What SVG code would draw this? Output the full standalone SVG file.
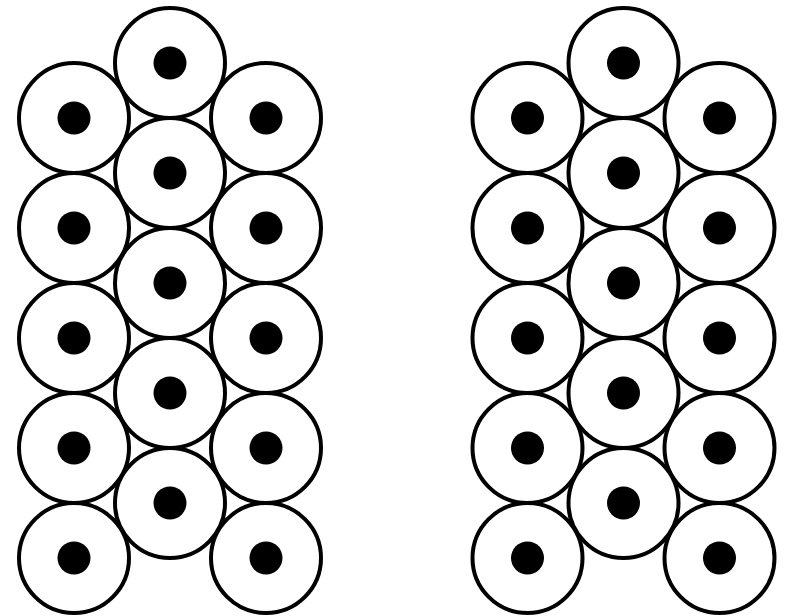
<svg xmlns="http://www.w3.org/2000/svg" xmlns:xlink="http://www.w3.org/1999/xlink" width="787" height="616" viewBox="0 0 787 616">
<style>
.ring{fill:#fff;stroke:#000;stroke-width:4}
.dot{fill:#000}
</style>
<defs>
<g id="cell"><circle class="ring" r="55"/><circle class="dot" r="16.5"/></g>
</defs>
<rect width="787" height="616" fill="#fff"/>
<g id="left-cluster">
<g id="L1"><use xlink:href="#cell" x="170" y="63"/></g>
<g id="L2"><use xlink:href="#cell" x="74" y="118"/></g>
<g id="L3"><use xlink:href="#cell" x="266" y="118"/></g>
<g id="L4"><use xlink:href="#cell" x="170" y="173"/></g>
<g id="L5"><use xlink:href="#cell" x="74" y="228"/></g>
<g id="L6"><use xlink:href="#cell" x="266" y="228"/></g>
<g id="L7"><use xlink:href="#cell" x="170" y="283"/></g>
<g id="L8"><use xlink:href="#cell" x="74" y="338"/></g>
<g id="L9"><use xlink:href="#cell" x="266" y="338"/></g>
<g id="L10"><use xlink:href="#cell" x="170" y="393"/></g>
<g id="L11"><use xlink:href="#cell" x="74" y="448"/></g>
<g id="L12"><use xlink:href="#cell" x="266" y="448"/></g>
<g id="L13"><use xlink:href="#cell" x="170" y="503"/></g>
<g id="L14"><use xlink:href="#cell" x="74" y="558"/></g>
<g id="L15"><use xlink:href="#cell" x="266" y="558"/></g>
</g>
<g id="right-cluster">
<g id="R1"><use xlink:href="#cell" x="623.5" y="63"/></g>
<g id="R2"><use xlink:href="#cell" x="527.5" y="118"/></g>
<g id="R3"><use xlink:href="#cell" x="719.5" y="118"/></g>
<g id="R4"><use xlink:href="#cell" x="623.5" y="173"/></g>
<g id="R5"><use xlink:href="#cell" x="527.5" y="228"/></g>
<g id="R6"><use xlink:href="#cell" x="719.5" y="228"/></g>
<g id="R7"><use xlink:href="#cell" x="623.5" y="283"/></g>
<g id="R8"><use xlink:href="#cell" x="527.5" y="338"/></g>
<g id="R9"><use xlink:href="#cell" x="719.5" y="338"/></g>
<g id="R10"><use xlink:href="#cell" x="623.5" y="393"/></g>
<g id="R11"><use xlink:href="#cell" x="527.5" y="448"/></g>
<g id="R12"><use xlink:href="#cell" x="719.5" y="448"/></g>
<g id="R13"><use xlink:href="#cell" x="623.5" y="503"/></g>
<g id="R14"><use xlink:href="#cell" x="527.5" y="558"/></g>
<g id="R15"><use xlink:href="#cell" x="719.5" y="558"/></g>
</g>
<g id="connectors"/>
</svg>
